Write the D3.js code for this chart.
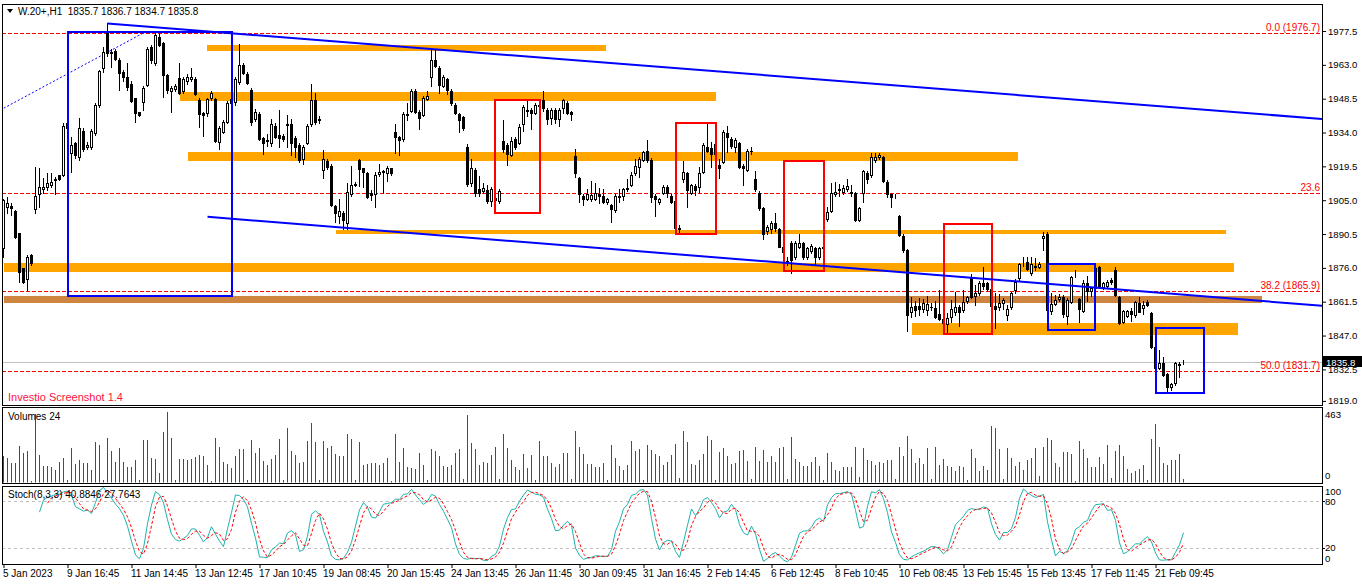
<!DOCTYPE html>
<html>
<head>
<meta charset="utf-8">
<title>W.20+ H1</title>
<script src="https://cdn.jsdelivr.net/npm/d3@7"></script>
<style>
  body { margin: 0; background: #fff; }
  svg { display: block; }
  text { font-family: "Liberation Sans", Arial, sans-serif; }
</style>
</head>
<body>
<svg id="chart" width="1362" height="585"></svg>
<script>
// ===== DATA (one value per H1 bar) =====
const opens = [
  1884.4,1902.2,1902.5,1900.5,1890.8,1875.8,1871.1,1881.5,1901.1,1907.6,
  1909.6,1910.5,1911.4,1913.6,1915.6,1915.8,1937.9,1925.4,1929.4,1923.6,
  1934.8,1927.6,1927.6,1933.6,1945.6,1961.5,1976.8,1967.9,1969.1,1965.1,
  1960.1,1957.9,1954.8,1948.6,1942.6,1947.2,1954.4,1970.8,1963.6,1974.8,
  1972.2,1958.6,1952.0,1952.8,1957.2,1951.6,1955.9,1956.8,1957.1,1947.9,
  1942.2,1942.5,1948.6,1948.2,1930.1,1934.4,1938.6,1946.5,1946.9,1955.8,
  1962.9,1959.1,1952.2,1939.6,1941.9,1931.5,1930.5,1929.4,1936.8,1932.9,
  1932.5,1937.5,1937.5,1931.5,1928.6,1922.5,1929.4,1937.5,1947.9,1939.6,
  1917.9,1921.8,1919.6,1902.5,1898.2,1899.6,1895.4,1907.6,1911.4,1922.2,
  1918.6,1916.5,1907.9,1907.6,1916.2,1917.2,1916.5,1918.6,1934.1,1931.9,
  1931.2,1941.9,1943.4,1951.9,1942.8,1941.6,1948.5,1957.9,1965.1,1961.5,
  1953.9,1956.8,1951.9,1945.8,1941.9,1940.5,1927.9,1912.5,1918.0,1909.8,
  1909.1,1909.4,1904.7,1905.0,1904.7,1930.3,1928.6,1924.4,1931.1,1929.4,
  1937.5,1943.4,1943.5,1942.5,1945.6,1947.9,1943.6,1940.4,1943.6,1939.9,
  1944.6,1946.5,1942.8,1923.9,1914.4,1906.8,1905.4,1905.4,1905.4,1907.6,
  1906.8,1904.4,1902.9,1900.8,1906.8,1906.8,1909.9,1911.4,1916.5,1919.3,
  1922.2,1926.2,1922.2,1906.8,1904.4,1908.2,1910.8,1906.8,1904.6,1892.5,
  1913.9,1916.5,1908.2,1911.1,1910.5,1917.2,1927.9,1927.2,1925.0,1920.1,
  1921.5,1933.6,1931.2,1927.9,1929.4,1919.6,1917.9,1926.2,1913.9,1908.2,
  1901.5,1891.8,1892.5,1895.4,1892.5,1885.0,1878.5,1886.8,1880.5,1885.1,
  1886.5,1880.5,1883.4,1884.4,1880.8,1884.4,1896.8,1900.5,1907.6,1909.2,
  1908.4,1909.8,1908.5,1907.9,1896.5,1907.9,1916.8,1915.8,1922.2,1923.3,
  1923.3,1913.0,1907.6,1906.8,1898.2,1889.8,1883.6,1857.2,1859.6,1859.6,
  1858.2,1857.9,1859.4,1858.6,1856.2,1854.2,1852.0,1855.1,1856.9,1859.4,
  1857.9,1861.9,1871.9,1863.9,1865.1,1869.4,1869.4,1866.8,1859.6,1859.4,
  1860.8,1855.8,1859.1,1866.5,1871.5,1878.1,1878.5,1874.0,1876.5,1876.2,
  1888.6,1890.5,1857.6,1860.5,1862.5,1863.6,1855.4,1861.5,1873.2,1862.5,
  1857.6,1869.4,1866.2,1867.2,1876.2,1867.9,1868.2,1870.8,1875.1,1863.6,
  1852.9,1855.5,1857.6,1855.8,1860.8,1858.6,1861.5,1856.5,1841.9,1832.9,
  1835.1,1830.5,1825.1,1826.5,1834.5,1835.7
];
const highs = [
  1905.7,1906.5,1903.6,1901.0,1891.0,1876.0,1881.5,1882.0,1919.4,1918.6,
  1914.4,1916.5,1916.8,1915.1,1916.0,1937.9,1938.5,1932.2,1930.0,1940.1,
  1936.0,1930.0,1935.5,1946.5,1961.0,1970.8,1980.8,1970.0,1970.0,1966.0,
  1961.0,1963.6,1956.0,1949.0,1943.0,1954.0,1970.5,1971.5,1977.0,1977.5,
  1973.0,1959.0,1954.0,1955.0,1963.6,1958.0,1959.0,1961.5,1958.0,1949.0,
  1943.0,1949.0,1952.0,1949.0,1937.0,1939.5,1947.5,1950.0,1958.0,1971.9,
  1964.0,1960.0,1953.0,1944.0,1943.0,1932.0,1933.5,1939.6,1938.0,1943.6,
  1933.5,1941.5,1939.6,1932.5,1929.5,1928.5,1937.5,1954.8,1951.1,1941.0,
  1926.5,1922.5,1920.5,1903.0,1905.4,1900.5,1912.2,1919.6,1912.9,1922.5,
  1919.0,1917.0,1909.5,1917.0,1920.5,1918.0,1919.5,1919.0,1937.6,1932.5,
  1943.0,1946.5,1952.5,1952.5,1943.5,1949.5,1951.8,1969.4,1969.4,1962.5,
  1958.5,1957.5,1952.5,1946.5,1942.5,1941.0,1929.0,1922.6,1919.0,1915.4,
  1912.4,1911.4,1910.8,1908.0,1910.0,1939.4,1929.5,1932.0,1932.0,1937.5,
  1946.0,1947.8,1944.5,1946.5,1947.0,1951.8,1944.5,1944.5,1944.5,1944.5,
  1948.5,1947.5,1943.2,1926.8,1915.0,1907.5,1909.8,1913.1,1912.4,1910.3,
  1909.9,1906.0,1903.5,1907.5,1909.9,1910.3,1913.9,1917.0,1922.6,1923.5,
  1926.2,1930.8,1923.0,1907.5,1906.0,1911.5,1911.5,1907.5,1905.0,1894.4,
  1921.8,1917.0,1912.0,1912.0,1919.4,1929.5,1938.6,1930.1,1931.0,1922.5,
  1935.0,1936.8,1932.0,1931.5,1930.0,1920.5,1927.0,1927.9,1917.5,1909.0,
  1902.0,1894.5,1896.0,1899.6,1893.0,1886.0,1880.5,1887.5,1887.6,1890.5,
  1887.0,1885.0,1886.3,1885.0,1885.0,1886.8,1902.0,1912.2,1912.9,1911.9,
  1911.5,1914.0,1911.6,1908.5,1902.0,1918.0,1917.5,1925.4,1925.1,1925.1,
  1924.0,1913.5,1908.0,1907.5,1898.8,1890.5,1884.0,1863.4,1862.0,1863.0,
  1862.5,1864.0,1861.0,1862.0,1866.5,1855.0,1856.5,1862.2,1865.8,1860.0,
  1866.5,1864.0,1873.4,1868.6,1870.5,1876.2,1870.0,1868.0,1865.1,1864.8,
  1863.0,1860.1,1865.8,1871.1,1877.9,1880.8,1880.5,1880.8,1880.1,1878.5,
  1891.2,1891.5,1865.4,1864.4,1864.8,1864.5,1863.0,1872.5,1875.1,1863.0,
  1870.8,1872.5,1868.0,1877.0,1877.0,1870.0,1871.0,1871.5,1876.5,1864.0,
  1858.0,1858.1,1858.8,1862.0,1863.6,1861.8,1862.2,1857.2,1842.5,1840.8,
  1837.9,1831.0,1826.7,1835.5,1835.8,1836.7
];
const lows = [
  1880.8,1899.4,1898.6,1889.0,1870.1,1869.4,1866.5,1877.2,1899.4,1902.2,
  1907.9,1909.4,1910.8,1907.5,1913.5,1915.4,1935.0,1917.2,1923.0,1922.2,
  1926.0,1927.0,1927.0,1933.0,1945.0,1960.1,1967.0,1962.0,1965.0,1952.2,
  1956.0,1952.2,1947.0,1938.6,1941.0,1943.6,1954.0,1964.0,1963.0,1971.0,
  1949.4,1951.0,1942.6,1952.0,1950.5,1951.0,1955.0,1956.0,1950.0,1936.5,
  1932.5,1941.0,1948.0,1930.0,1926.8,1934.0,1938.0,1945.0,1946.0,1955.0,
  1959.0,1955.0,1937.2,1939.0,1931.0,1924.6,1928.2,1928.2,1931.5,1927.9,
  1930.5,1927.6,1924.4,1923.6,1921.5,1920.5,1929.0,1937.0,1937.5,1938.0,
  1914.4,1918.5,1902.5,1895.8,1895.4,1892.5,1892.5,1907.0,1911.0,1911.1,
  1910.8,1906.0,1905.1,1902.2,1915.4,1907.9,1913.2,1916.0,1925.4,1924.4,
  1930.5,1939.4,1943.0,1942.5,1935.6,1941.0,1948.0,1953.9,1962.0,1950.8,
  1953.5,1950.5,1946.0,1942.0,1934.4,1935.0,1911.0,1911.0,1906.7,1907.0,
  1908.0,1904.0,1902.6,1901.0,1903.6,1925.6,1920.1,1924.0,1927.0,1929.0,
  1934.6,1941.0,1935.4,1942.0,1944.0,1943.1,1937.5,1937.5,1937.9,1936.6,
  1942.2,1942.0,1939.4,1915.0,1904.4,1903.0,1905.0,1904.5,1905.0,1903.6,
  1904.0,1903.2,1895.5,1899.9,1904.4,1905.0,1909.0,1911.0,1916.0,1914.8,
  1922.0,1921.5,1904.4,1898.4,1903.2,1907.5,1906.2,1904.0,1892.2,1891.5,
  1913.0,1902.2,1907.5,1907.2,1908.2,1916.5,1925.5,1919.4,1924.0,1914.4,
  1921.0,1925.8,1927.5,1925.8,1919.0,1911.5,1917.5,1925.0,1909.0,1901.0,
  1888.2,1890.5,1890.8,1891.9,1885.0,1882.0,1877.2,1873.9,1880.0,1884.5,
  1880.0,1880.0,1882.5,1877.6,1880.0,1883.8,1896.0,1900.0,1907.0,1907.0,
  1907.5,1909.0,1907.0,1896.0,1896.0,1904.4,1912.5,1915.0,1921.5,1922.5,
  1913.0,1906.5,1902.2,1905.8,1889.5,1883.0,1849.1,1855.1,1855.5,1856.0,
  1857.0,1856.0,1858.0,1854.5,1853.5,1851.0,1848.2,1852.9,1856.0,1851.1,
  1857.0,1861.0,1863.0,1860.1,1864.5,1866.8,1866.0,1858.5,1850.1,1857.9,
  1858.2,1853.6,1858.5,1865.4,1871.0,1876.8,1875.0,1873.0,1875.1,1875.8,
  1883.6,1857.0,1856.4,1860.0,1862.0,1854.8,1851.8,1861.0,1872.2,1852.9,
  1857.0,1862.0,1864.0,1866.5,1867.5,1867.0,1867.5,1869.0,1864.0,1852.0,
  1852.5,1855.0,1853.1,1855.0,1857.0,1856.4,1859.5,1841.5,1832.0,1832.5,
  1829.5,1822.9,1823.6,1826.0,1829.1,1834.7
];
const closes = [
  1905.1,1903.6,1901.5,1889.4,1874.4,1870.1,1880.8,1877.9,1906.8,1910.5,
  1910.5,1912.5,1912.8,1914.2,1914.2,1936.8,1935.8,1928.5,1924.2,1935.8,
  1926.8,1928.6,1934.6,1945.6,1960.5,1968.6,1967.9,1968.6,1965.5,1959.6,
  1957.6,1953.6,1947.6,1942.2,1941.5,1952.9,1969.6,1965.1,1975.8,1971.5,
  1958.6,1952.2,1953.0,1953.9,1951.1,1956.8,1957.6,1957.9,1950.5,1941.8,
  1941.5,1948.2,1950.8,1930.5,1935.8,1938.6,1946.5,1948.5,1956.8,1962.9,
  1959.6,1955.4,1938.6,1942.6,1931.2,1929.4,1930.8,1937.5,1932.2,1931.5,
  1931.4,1937.1,1929.4,1927.6,1922.2,1927.6,1936.8,1947.8,1938.6,1939.4,
  1922.5,1919.4,1902.9,1899.4,1900.4,1896.5,1908.4,1911.5,1911.8,1918.5,
  1917.2,1906.5,1907.4,1915.8,1917.2,1917.4,1918.6,1916.5,1932.2,1930.8,
  1941.9,1941.6,1951.6,1942.9,1940.4,1948.6,1949.5,1965.1,1962.5,1954.4,
  1957.6,1952.2,1946.5,1942.5,1939.4,1935.8,1911.9,1918.6,1908.1,1908.1,
  1910.2,1904.7,1909.8,1906.0,1908.9,1927.0,1924.9,1930.5,1927.9,1936.5,
  1944.9,1943.6,1942.5,1945.6,1945.4,1944.6,1939.6,1943.6,1939.6,1943.6,
  1947.8,1942.5,1941.8,1916.8,1907.6,1905.4,1907.6,1907.4,1908.2,1906.6,
  1904.4,1905.4,1901.4,1906.8,1906.5,1909.6,1910.3,1915.9,1919.6,1922.5,
  1925.5,1922.2,1906.5,1905.4,1905.4,1910.8,1908.2,1904.4,1892.9,1893.2,
  1917.2,1909.4,1911.3,1909.4,1916.8,1928.6,1926.2,1924.8,1929.0,1918.6,
  1934.4,1932.2,1928.2,1930.8,1919.4,1918.6,1926.2,1926.0,1909.6,1901.5,
  1890.5,1893.6,1895.4,1893.2,1885.1,1882.9,1879.1,1879.4,1886.8,1886.5,
  1880.5,1884.4,1885.4,1880.8,1884.4,1885.0,1900.1,1908.2,1908.5,1909.8,
  1910.1,1911.1,1907.9,1896.5,1901.5,1917.5,1914.2,1923.4,1923.3,1924.3,
  1913.4,1907.6,1906.5,1907.0,1890.1,1883.6,1855.8,1859.4,1857.9,1858.2,
  1860.8,1860.5,1859.2,1855.1,1854.2,1852.5,1854.4,1858.2,1859.4,1857.2,
  1861.2,1863.4,1863.4,1865.1,1869.6,1868.2,1866.8,1859.5,1858.2,1861.1,
  1862.2,1858.2,1865.1,1870.1,1877.5,1878.2,1875.4,1877.5,1876.6,1877.6,
  1889.6,1857.8,1860.5,1862.2,1863.4,1856.2,1862.2,1872.2,1873.4,1858.2,
  1869.4,1866.2,1867.2,1876.0,1868.2,1869.4,1870.1,1870.1,1864.4,1852.5,
  1857.5,1857.6,1856.2,1861.2,1857.2,1860.1,1859.9,1841.9,1832.9,1835.1,
  1830.1,1825.1,1826.2,1835.1,1834.7,1835.8
];
const volumes = [
  175,164,131,131,241,191,208,9,447,182, 109,109,104,82,135,164,16,224,122,148,
  131,131,82,263,244,16,290,204,137,224, 135,100,104,151,16,277,277,164,155,62,
  330,463,290,16,155,155,151,155,166,182, 175,115,7,295,230,137,122,97,171,222,
  219,16,277,193,224,144,113,155,182,284, 16,357,204,182,131,135,270,390,263,16,
  270,224,237,188,175,175,317,284,16,263, 115,122,128,128,115,128,158,13,317,137,
  226,104,95,86,197,113,16,217,204,171, 109,104,113,191,217,22,441,257,219,115,
  137,126,182,230,22,321,224,146,102,82, 186,93,182,18,270,171,171,126,104,120,
  197,197,22,341,235,188,122,120,104,104, 131,16,248,160,111,82,115,275,204,217,
  16,248,215,188,171,115,137,182,255,27, 335,263,122,115,148,188,308,277,16,202,
  228,175,122,126,210,215,144,22,230,142, 215,133,177,133,224,235,22,301,153,135,
  111,111,133,168,111,16,191,137,84,75, 104,104,104,230,38,228,151,142,113,137,
  128,146,151,22,235,177,308,219,131,160, 120,224,22,230,115,157,111,104,75,111,
  104,16,217,164,78,109,82,368,359,219, 22,228,164,111,137,80,151,160,224,42,
  235,292,277,131,104,202,202,188,11,275, 217,164,100,100,168,120,248,27,210,248,
  177,89,62,78,86,115,16,288,381,235, 131,115,148,148,188,22
];

const priceTicks = [1977.5, 1963.0, 1948.5, 1934.0, 1919.5, 1905.0, 1890.5, 1876.0, 1861.5, 1847.0, 1832.5, 1819.0];
const timeLabels = ["5 Jan 2023", "9 Jan 16:45", "11 Jan 14:45", "13 Jan 12:45", "17 Jan 10:45", "19 Jan 08:45",
  "20 Jan 15:45", "24 Jan 13:45", "26 Jan 11:45", "30 Jan 09:45", "31 Jan 16:45", "2 Feb 14:45", "6 Feb 12:45",
  "8 Feb 10:45", "10 Feb 08:45", "13 Feb 15:45", "15 Feb 13:45", "17 Feb 11:45", "21 Feb 09:45"];
const stochTicks = [100, 80, 20, 0];

// drawn objects: [fromBar, toBar, topPrice, bottomPrice]
const orangeZones = [
  [51, 150.6, 1971.5, 1969.1],
  [44, 178, 1951.2, 1947.6],
  [46, 253.6, 1925.5, 1921.9],
  [83, 305.6, 1892.2, 1890.7],
  [0, 307.6, 1878.0, 1874.4],
  [227, 308.6, 1852.3, 1847.3]
];
const brownZones = [[0, 314.6, 1864.1, 1861.1]];
const redBoxes = [[123, 134, 1948.0, 1899.7], [168, 178, 1938.0, 1890.6], [195, 205, 1921.9, 1874.8], [235, 247, 1894.8, 1847.7]];
const blueBoxes = [[16, 57, 1977.1, 1864.1], [261, 273, 1877.5, 1849.4], [288, 300, 1850.4, 1822.3]];
// trend lines as rays: [bar1, price1, bar2, price2]
const channelLines = [[26, 1980.7, 300, 1943.8], [51, 1897.9, 300, 1863.8]];
// fibonacci: [bar, price] of the 0% and 100% anchors
const fiboHigh = [35, 1976.7];
const fiboLow = [-279, 1686.7];
const fiboLevels = [0, 23.6, 38.2, 50];
const fiboLabels = ["0.0 (1976.7)", "23.6", "38.2 (1865.9)", "50.0 (1831.7)"];

// ===== LAYOUT =====
const svg = d3.select("#chart");
const left = 2, right = 1322;
const pricePanel = { top: 4, bottom: 405 };
const volPanel = { top: 407, bottom: 483 };
const stochPanel = { top: 486, bottom: 564 };
const n = closes.length;

const x = d3.scaleLinear().domain([0, n - 1]).range([3.5, 3.5 + 4 * (n - 1)]);
const y = d3.scaleLinear().domain([1819.0, 1977.5]).range([400.9, 31]);
const yVol = d3.scaleLinear().domain([0, d3.max(volumes)]).range([482.5, 412]);
const yStoch = d3.scaleLinear().domain([0, 100]).range([564, 485]);

svg.append("rect").attr("width", 1362).attr("height", 585).attr("fill", "#fff");

const defs = svg.append("defs");
defs.append("clipPath").attr("id", "clipPrice")
  .append("rect").attr("x", left).attr("y", pricePanel.top)
  .attr("width", right - left).attr("height", pricePanel.bottom - pricePanel.top);
defs.append("clipPath").attr("id", "clipStoch")
  .append("rect").attr("x", left).attr("y", stochPanel.top)
  .attr("width", right - left).attr("height", stochPanel.bottom - stochPanel.top);

const crisp = v => Math.round(v) + 0.5;
const price = svg.append("g").attr("clip-path", "url(#clipPrice)");

// background zones
function drawZones(list, color) {
  price.append("g").selectAll("rect").data(list).join("rect")
    .attr("x", d => Math.round(x(d[0])))
    .attr("width", d => Math.round(x(d[1])) - Math.round(x(d[0])))
    .attr("y", d => Math.round(y(d[2])))
    .attr("height", d => Math.max(2, Math.round(y(d[3])) - Math.round(y(d[2]))))
    .attr("fill", color);
}
drawZones(orangeZones, "#FFA500");
drawZones(brownZones, "#CD853F");

// fibonacci levels
const fiboPrice = lvl => fiboHigh[1] - lvl / 100 * (fiboHigh[1] - fiboLow[1]);
price.append("g").attr("class", "fibo").selectAll("line").data(fiboLevels).join("line")
  .attr("x1", left).attr("x2", right)
  .attr("y1", d => crisp(y(fiboPrice(d)))).attr("y2", d => crisp(y(fiboPrice(d))))
  .style("stroke", "#FF0000").style("stroke-width", 1).style("stroke-dasharray", "4,2");
price.append("line")
  .attr("x1", x(fiboLow[0])).attr("y1", y(fiboLow[1]))
  .attr("x2", x(fiboHigh[0])).attr("y2", y(fiboHigh[1]))
  .style("stroke", "#0000FF").style("stroke-dasharray", "2,2");

// bid line
const last = closes[n - 1];
price.append("line")
  .attr("x1", left).attr("x2", right)
  .attr("y1", crisp(y(last))).attr("y2", crisp(y(last)))
  .style("stroke", "#C0C0C0");

// candles
const bars = d3.range(n);
const candles = price.append("g").attr("class", "candles");
candles.selectAll("line").data(bars).join("line")
  .attr("x1", i => x(i)).attr("x2", i => x(i))
  .attr("y1", i => Math.round(y(highs[i]))).attr("y2", i => Math.round(y(lows[i])) + 1)
  .style("stroke", "#000");
candles.selectAll("rect").data(bars).join("rect")
  .each(function (i) {
    const up = closes[i] >= opens[i];
    const top = Math.round(y(Math.max(opens[i], closes[i])));
    const bot = Math.round(y(Math.min(opens[i], closes[i])));
    const r = d3.select(this);
    if (up) {
      r.attr("x", x(i) - 1).attr("width", 2)
        .attr("y", top + 0.5).attr("height", Math.max(0, bot - top))
        .attr("fill", "#fff").attr("stroke", "#000");
    } else {
      r.attr("x", x(i) - 1.5).attr("width", 3)
        .attr("y", top).attr("height", Math.max(1, bot - top + 1))
        .attr("fill", "#000");
    }
  });

// outline boxes
function drawBoxes(list, color) {
  price.append("g").selectAll("rect").data(list).join("rect")
    .attr("x", d => Math.round(x(d[0])))
    .attr("width", d => Math.round(x(d[1])) - Math.round(x(d[0])))
    .attr("y", d => Math.round(y(d[2])))
    .attr("height", d => Math.round(y(d[3])) - Math.round(y(d[2])))
    .attr("fill", "none").style("stroke", color).style("stroke-width", 2);
}
drawBoxes(redBoxes, "#FF0000");
drawBoxes(blueBoxes, "#0000FF");

// channel rays
const rightBar = x.invert(right);
price.append("g").selectAll("line").data(channelLines).join("line")
  .attr("x1", d => x(d[0])).attr("y1", d => y(d[1]))
  .attr("x2", x(rightBar))
  .attr("y2", d => y(d[1] + (d[3] - d[1]) / (d[2] - d[0]) * (rightBar - d[0])))
  .style("stroke", "#0000FF").style("stroke-width", 2);

// fibo labels
svg.append("g").selectAll("text").data(fiboLevels).join("text")
  .attr("x", right - 2).attr("y", d => Math.round(y(fiboPrice(d))) - 2)
  .attr("text-anchor", "end").attr("font-size", 10).attr("fill", "#FF0000")
  .text((d, i) => fiboLabels[i]);

// header and watermark
svg.append("path").attr("d", "M7,9 L13,9 L10,13 Z").attr("fill", "#000");
svg.append("text").attr("x", 18).attr("y", 14.5).attr("font-size", 10)
  .style("white-space", "pre")
  .text("W.20+,H1  1835.7 1836.7 1834.7 1835.8");
svg.append("text").attr("x", 8).attr("y", 401).attr("font-size", 11).attr("fill", "#FF1040")
  .text("Investio Screenshot 1.4");

// price axis
const pAxis = svg.append("g").attr("transform", `translate(${right},0)`)
  .call(d3.axisRight(y).tickValues(priceTicks).tickFormat(d3.format(".1f")).tickSize(4).tickPadding(2));
pAxis.select(".domain").remove();
pAxis.selectAll("text").attr("font-family", "Liberation Sans, Arial, sans-serif").attr("font-size", 9.6).attr("fill", "#000");
pAxis.selectAll("line").style("stroke", "#000");

// current price marker
svg.append("rect").attr("x", right + 1).attr("y", crisp(y(last)) - 6.5).attr("width", 39).attr("height", 11).attr("fill", "#000");
svg.append("text").attr("x", right + 4).attr("y", crisp(y(last)) + 3)
  .attr("font-size", 9.6).attr("fill", "#fff").text(last.toFixed(1));

// ===== VOLUMES =====
const vol = svg.append("g");
vol.selectAll("line").data(bars).join("line")
  .attr("x1", i => x(i)).attr("x2", i => x(i))
  .attr("y1", yVol(0)).attr("y2", i => Math.round(yVol(volumes[i])))
  .style("stroke", i => (i > 0 && volumes[i] > volumes[i - 1]) ? "#008000" : "#FF0000");
svg.append("text").attr("x", 8).attr("y", 420).attr("font-size", 10).text("Volumes 24");
svg.append("text").attr("x", right + 3).attr("y", 418).attr("font-size", 9.6).text(d3.max(volumes));
svg.append("text").attr("x", right + 3).attr("y", 479).attr("font-size", 9.6).text("0");

// ===== STOCHASTIC (8,3,3) from the candles =====
function stochastic(kPeriod, slowing, dPeriod) {
  const num = [], den = [], K = new Array(n).fill(null), D = new Array(n).fill(null);
  for (let i = 0; i < n; i++) {
    if (i < kPeriod - 1) { num.push(null); den.push(null); continue; }
    const ll = d3.min(lows.slice(i - kPeriod + 1, i + 1));
    const hh = d3.max(highs.slice(i - kPeriod + 1, i + 1));
    num.push(closes[i] - ll); den.push(hh - ll);
    if (i >= kPeriod + slowing - 2) {
      const sn = d3.sum(num.slice(i - slowing + 1, i + 1));
      const sd = d3.sum(den.slice(i - slowing + 1, i + 1));
      K[i] = sd === 0 ? 100 : sn / sd * 100;
    }
  }
  for (let i = 0; i < n; i++) {
    const w = K.slice(Math.max(0, i - dPeriod + 1), i + 1);
    if (i >= dPeriod - 1 && w.every(v => v !== null)) D[i] = d3.mean(w);
  }
  return { K, D };
}
const st = stochastic(8, 3, 3);
const stochG = svg.append("g").attr("clip-path", "url(#clipStoch)");
stochG.append("g").selectAll("line").data([80, 20]).join("line")
  .attr("x1", left).attr("x2", right)
  .attr("y1", d => crisp(yStoch(d))).attr("y2", d => crisp(yStoch(d)))
  .style("stroke", "#C0C0C0").style("stroke-dasharray", "3,3");
const sLine = d3.line().defined(d => d !== null).x((d, i) => x(i)).y(d => yStoch(d));
stochG.append("path").datum(st.K).attr("d", sLine).attr("fill", "none").style("stroke", "#20B2AA");
stochG.append("path").datum(st.D).attr("d", sLine).attr("fill", "none").style("stroke", "#FF0000").style("stroke-dasharray", "3,2");
svg.append("text").attr("x", 8).attr("y", 498).attr("font-size", 10).text("Stoch(8,3,3) 40.8846 27.7643");
// MT4 keeps the end labels inside the panel
const stochLabelY = v => v === 100 ? 495 : v === 0 ? 562 : (v === 20 ? 551 : Math.round(yStoch(v)) + 4);
svg.append("g").selectAll("text").data(stochTicks).join("text")
  .attr("x", right + 3).attr("y", stochLabelY).attr("font-size", 9.6).text(d => d);
svg.append("g").selectAll("line").data([80, 20]).join("line")
  .attr("x1", right).attr("x2", right + 3)
  .attr("y1", d => crisp(yStoch(d))).attr("y2", d => crisp(yStoch(d))).style("stroke", "#000");

// ===== TIME AXIS =====
const tAxis = svg.append("g").attr("transform", `translate(0,${stochPanel.bottom})`)
  .call(d3.axisBottom(x).tickValues(d3.range(0, n, 16)).tickFormat((d, i) => timeLabels[i]).tickSize(4).tickPadding(2));
tAxis.select(".domain").remove();
tAxis.selectAll("text").attr("text-anchor", "start").attr("x", -1)
  .attr("font-family", "Liberation Sans, Arial, sans-serif").attr("font-size", 10).attr("fill", "#000");
tAxis.selectAll("line").style("stroke", "#000");

// ===== PANEL FRAMES =====
svg.append("g").selectAll("rect").data([pricePanel, volPanel, stochPanel]).join("rect")
  .attr("x", left + 0.5).attr("y", p => p.top + 0.5)
  .attr("width", right - left).attr("height", p => p.bottom - p.top)
  .attr("fill", "none").style("stroke", "#000");
</script>
</body>
</html>
